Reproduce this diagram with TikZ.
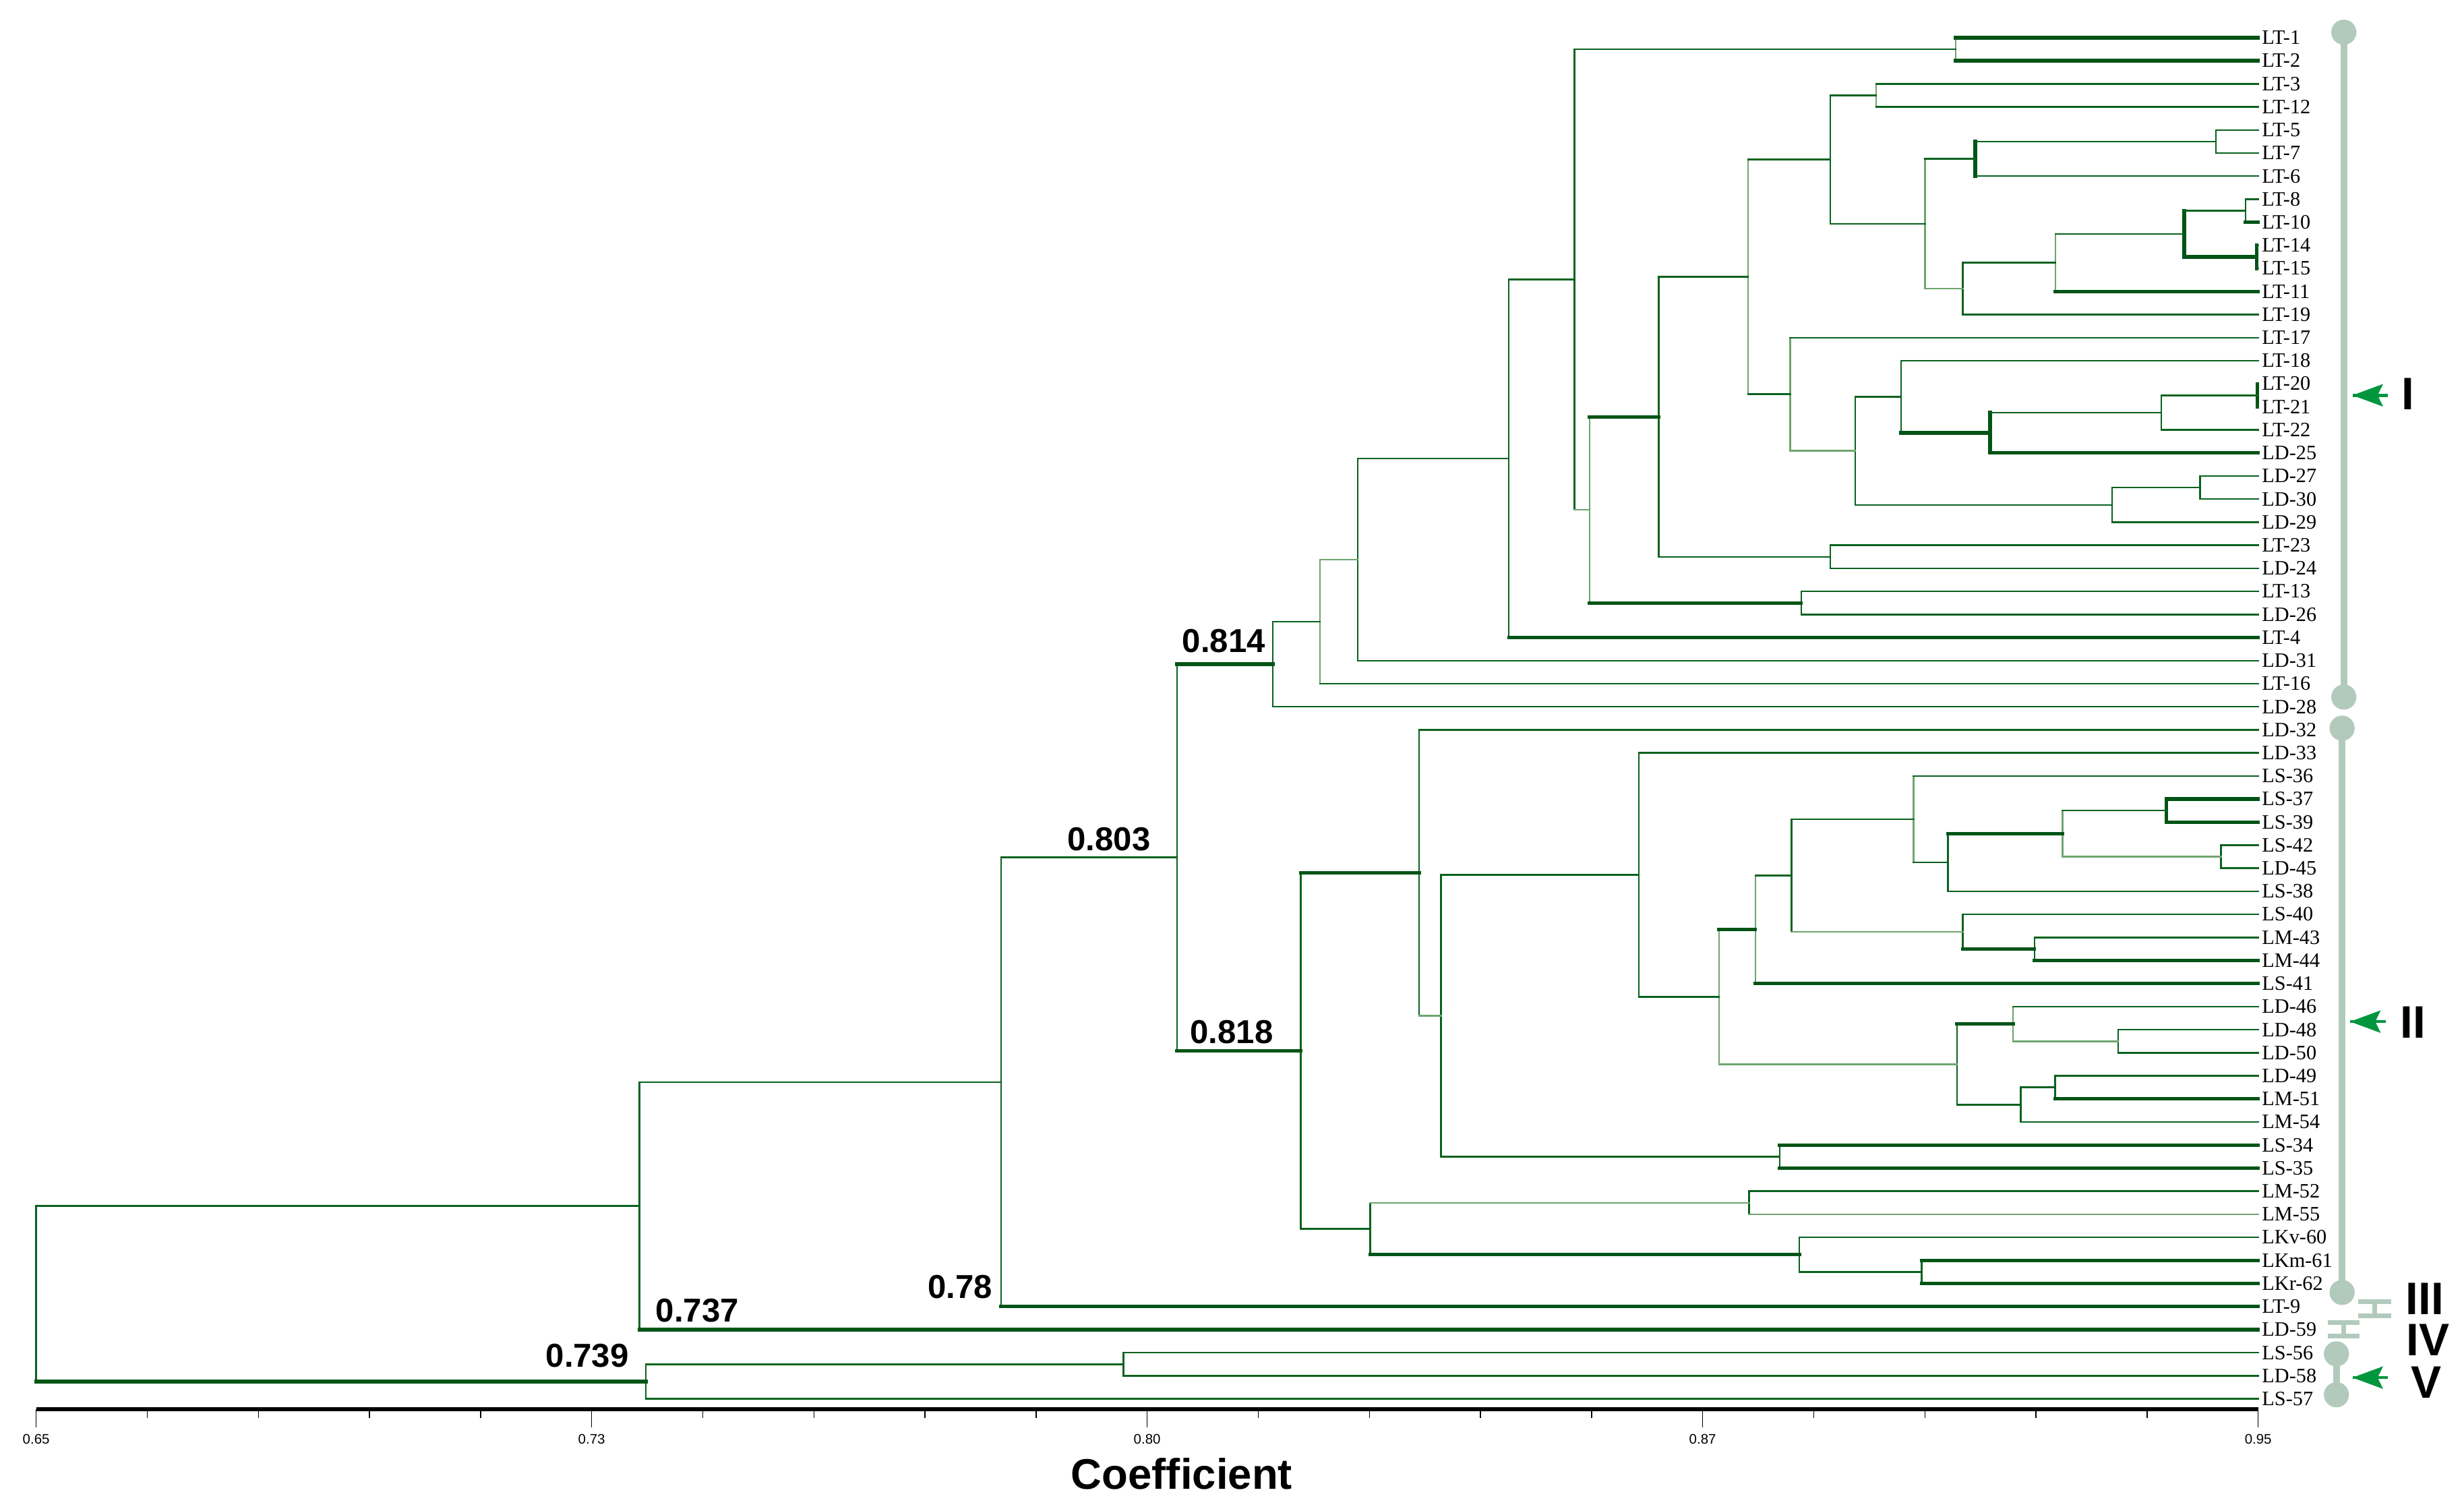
\documentclass[tikz,border=0pt]{standalone}
\usepackage{fontspec}
\setmainfont{Liberation Serif}
\newfontfamily\arialf{Liberation Sans}
\usetikzlibrary{calc,arrows.meta}
\definecolor{dg}{RGB}{8,98,30}
\definecolor{dgk}{RGB}{0,84,22}
\definecolor{lg}{RGB}{110,165,110}
\definecolor{sage}{RGB}{178,202,188}
\definecolor{ag}{RGB}{0,150,62}
\newcommand\mkcl[4]{\coordinate (#1tmp) at ($(#3)!0.5!(#4)$); \coordinate (#1) at (#1tmp -| #2,0);}
\newcommand\edg[4]{\draw[#1] (#3) -- (#3 |- #4); \draw[#2] (#3 |- #4) -- (#4);}
\newcommand\pointer[2]{\draw[grshaft] (#1) -- (#2);
  \fill[ag] (#2) -- ++(19.5,-7.2) -- ++(-3.5,7.2) -- ++(3.5,7.2) -- cycle;}
\tikzset{
  brn/.style={draw=dg, line width=0.6pt, line cap=rect},
  brk/.style={draw=dgk, line width=1.3pt, line cap=rect},
  brl/.style={draw=lg, line width=0.6pt, line cap=rect},
  leaf/.style={anchor=west, inner xsep=1.2pt, inner ysep=0pt, text height=4.8pt, text depth=0pt, font=\fontsize{7.4}{8}\selectfont},
  numlab/.style={anchor=base west, inner sep=0pt, font=\arialf\bfseries\fontsize{12}{14}\selectfont},
  roman/.style={inner sep=0pt, font=\arialf\bfseries\fontsize{16.5}{19}\selectfont},
  sageline/.style={draw=sage, line width=2.4pt},
  sagebar/.style={draw=sage, line width=1.7pt},
  grshaft/.style={draw=ag, line width=1.1pt},
  ticklab/.style={inner sep=0pt, font=\arialf\fontsize{5}{6}\selectfont}
}
\begin{document}
\begin{tikzpicture}[x=0.02cm, y=-0.02cm]
\useasboundingbox (0,0) rectangle (1568,960);
% leaves
\foreach \i/\t in {1/LT-1,2/LT-2,3/LT-3,4/LT-12,5/LT-5,6/LT-7,7/LT-6,8/LT-8,9/LT-10,10/LT-14,
 11/LT-15,12/LT-11,13/LT-19,14/LT-17,15/LT-18,16/LT-20,17/LT-21,18/LT-22,19/LD-25,20/LD-27,
 21/LD-30,22/LD-29,23/LT-23,24/LD-24,25/LT-13,26/LD-26,27/LT-4,28/LD-31,29/LT-16,30/LD-28,
 31/LD-32,32/LD-33,33/LS-36,34/LS-37,35/LS-39,36/LS-42,37/LD-45,38/LS-38,39/LS-40,40/LM-43,
 41/LM-44,42/LS-41,43/LD-46,44/LD-48,45/LD-50,46/LD-49,47/LM-51,48/LM-54,49/LS-34,50/LS-35,
 51/LM-52,52/LM-55,53/LKv-60,54/LKm-61,55/LKr-62,56/LT-9,57/LD-59,58/LS-56,59/LD-58,60/LS-57}
 {\node[leaf] (l\i) at (1437,{24+(\i-1)*14.678}) {\t};}
% cluster I
\mkcl{a1}{1244.5}{l1}{l2}
\mkcl{a2}{1194}{l3}{l4}
\mkcl{a3}{1410}{l5}{l6}
\mkcl{a4}{1257}{a3}{l7}
\mkcl{a5}{1429}{l8}{l9}
\mkcl{a6}{1436}{l10}{l11}
\mkcl{a7}{1390}{a5}{a6}
\mkcl{a8}{1308}{a7}{l12}
\mkcl{a9}{1249}{a8}{l13}
\mkcl{a10}{1225}{a4}{a9}
\mkcl{a11}{1164.7}{a2}{a10}
\mkcl{a12}{1436.5}{l16}{l17}
\mkcl{a13}{1375.3}{a12}{l18}
\mkcl{a14}{1266.4}{a13}{l19}
\mkcl{a15}{1209.7}{l15}{a14}
\mkcl{a16}{1400}{l20}{l21}
\mkcl{a17}{1344}{a16}{l22}
\mkcl{a18}{1180.5}{a15}{a17}
\mkcl{a19}{1139.2}{l14}{a18}
\mkcl{a20}{1112.5}{a11}{a19}
\mkcl{a21}{1164.7}{l23}{l24}
\mkcl{a22}{1055.5}{a20}{a21}
\mkcl{a23}{1146.2}{l25}{l26}
\mkcl{a24}{1011.5}{a22}{a23}
\mkcl{a25}{1002}{a1}{a24}
\mkcl{a26}{960.2}{a25}{l27}
\mkcl{a27}{864}{a26}{l28}
\mkcl{a28}{840}{a27}{l29}
\mkcl{a29}{810}{a28}{l30}
% cluster II
\mkcl{b1}{1378.6}{l34}{l35}
\mkcl{b2}{1413.3}{l36}{l37}
\mkcl{b3}{1312.6}{b1}{b2}
\mkcl{b4}{1239.5}{b3}{l38}
\mkcl{b5}{1217.8}{l33}{b4}
\mkcl{b6}{1294.6}{l40}{l41}
\mkcl{b7}{1249}{l39}{b6}
\mkcl{b8}{1140}{b5}{b7}
\mkcl{b9}{1117}{b8}{l42}
\mkcl{b10}{1347.9}{l44}{l45}
\mkcl{b11}{1281}{l43}{b10}
\mkcl{b12}{1307.7}{l46}{l47}
\mkcl{b13}{1286}{b12}{l48}
\mkcl{b14}{1245.4}{b11}{b13}
\mkcl{b15}{1094}{b9}{b14}
\mkcl{b16}{1043}{l32}{b15}
\mkcl{b17}{1132.5}{l49}{l50}
\mkcl{b18}{917}{b16}{b17}
\mkcl{b19}{903}{l31}{b18}
\mkcl{b20}{1113}{l51}{l52}
\mkcl{b21}{1222.8}{l54}{l55}
\mkcl{b22}{1145}{l53}{b21}
\mkcl{b23}{872}{b20}{b22}
\mkcl{b24}{827.7}{b19}{b23}
\mkcl{c1}{749}{a29}{b24}
\mkcl{c2}{637}{c1}{l56}
\mkcl{c3}{407}{c2}{l57}
\mkcl{d1}{715}{l58}{l59}
\mkcl{d2}{411}{d1}{l60}
\mkcl{r}{23}{c3}{d2}
% edges cluster I
\edg{brl}{brk}{a1}{l1.west} \edg{brl}{brk}{a1}{l2.west}
\edg{brl}{brn}{a2}{l3.west} \edg{brl}{brn}{a2}{l4.west}
\edg{brn}{brn}{a3}{l5.west} \edg{brn}{brn}{a3}{l6.west}
\edg{brk}{brn}{a4}{a3} \edg{brk}{brn}{a4}{l7.west}
\edg{brn}{brn}{a5}{l8.west} \edg{brn}{brk}{a5}{l9.west}
\edg{brk}{brn}{a6}{l10.west} \edg{brk}{brn}{a6}{l11.west}
\edg{brk}{brn}{a7}{a5} \edg{brk}{brk}{a7}{a6}
\edg{brl}{brn}{a8}{a7} \edg{brl}{brk}{a8}{l12.west}
\edg{brn}{brn}{a9}{a8} \edg{brn}{brn}{a9}{l13.west}
\edg{brl}{brn}{a10}{a4} \edg{brl}{brl}{a10}{a9}
\edg{brn}{brn}{a11}{a2} \edg{brn}{brn}{a11}{a10}
\edg{brk}{brn}{a12}{l16.west} \edg{brk}{brn}{a12}{l17.west}
\edg{brn}{brn}{a13}{a12} \edg{brn}{brn}{a13}{l18.west}
\edg{brk}{brn}{a14}{a13} \edg{brk}{brk}{a14}{l19.west}
\edg{brn}{brn}{a15}{l15.west} \edg{brn}{brk}{a15}{a14}
\edg{brn}{brn}{a16}{l20.west} \edg{brn}{brn}{a16}{l21.west}
\edg{brn}{brn}{a17}{a16} \edg{brn}{brn}{a17}{l22.west}
\edg{brn}{brn}{a18}{a15} \edg{brn}{brn}{a18}{a17}
\edg{brl}{brn}{a19}{l14.west} \edg{brl}{brl}{a19}{a18}
\edg{brl}{brn}{a20}{a11} \edg{brl}{brn}{a20}{a19}
\edg{brn}{brn}{a21}{l23.west} \edg{brn}{brn}{a21}{l24.west}
\edg{brn}{brn}{a22}{a20} \edg{brn}{brn}{a22}{a21}
\edg{brn}{brn}{a23}{l25.west} \edg{brn}{brn}{a23}{l26.west}
\edg{brl}{brk}{a24}{a22} \edg{brl}{brk}{a24}{a23}
\edg{brn}{brn}{a25}{a1} \edg{brn}{brl}{a25}{a24}
\edg{brn}{brn}{a26}{a25} \edg{brn}{brk}{a26}{l27.west}
\edg{brn}{brn}{a27}{a26} \edg{brn}{brn}{a27}{l28.west}
\edg{brl}{brl}{a28}{a27} \edg{brl}{brn}{a28}{l29.west}
\edg{brn}{brn}{a29}{a28} \edg{brn}{brn}{a29}{l30.west}
% edges cluster II
\edg{brk}{brk}{b1}{l34.west} \edg{brk}{brk}{b1}{l35.west}
\edg{brn}{brn}{b2}{l36.west} \edg{brn}{brn}{b2}{l37.west}
\edg{brl}{brn}{b3}{b1} \edg{brl}{brl}{b3}{b2}
\edg{brn}{brk}{b4}{b3} \edg{brn}{brn}{b4}{l38.west}
\edg{brl}{brn}{b5}{l33.west} \edg{brl}{brn}{b5}{b4}
\edg{brn}{brn}{b6}{l40.west} \edg{brn}{brk}{b6}{l41.west}
\edg{brn}{brn}{b7}{l39.west} \edg{brn}{brk}{b7}{b6}
\edg{brn}{brn}{b8}{b5} \edg{brn}{brl}{b8}{b7}
\edg{brl}{brn}{b9}{b8} \edg{brl}{brk}{b9}{l42.west}
\edg{brn}{brn}{b10}{l44.west} \edg{brn}{brn}{b10}{l45.west}
\edg{brl}{brn}{b11}{l43.west} \edg{brl}{brl}{b11}{b10}
\edg{brn}{brn}{b12}{l46.west} \edg{brn}{brk}{b12}{l47.west}
\edg{brn}{brn}{b13}{b12} \edg{brn}{brn}{b13}{l48.west}
\edg{brn}{brk}{b14}{b11} \edg{brn}{brn}{b14}{b13}
\edg{brl}{brk}{b15}{b9} \edg{brl}{brl}{b15}{b14}
\edg{brn}{brn}{b16}{l32.west} \edg{brn}{brn}{b16}{b15}
\edg{brn}{brk}{b17}{l49.west} \edg{brn}{brk}{b17}{l50.west}
\edg{brn}{brn}{b18}{b16} \edg{brn}{brn}{b18}{b17}
\edg{brn}{brn}{b19}{l31.west} \edg{brn}{brl}{b19}{b18}
\edg{brn}{brn}{b20}{l51.west} \edg{brn}{brl}{b20}{l52.west}
\edg{brn}{brk}{b21}{l54.west} \edg{brn}{brk}{b21}{l55.west}
\edg{brn}{brn}{b22}{l53.west} \edg{brn}{brn}{b22}{b21}
\edg{brn}{brl}{b23}{b20} \edg{brn}{brk}{b23}{b22}
\edg{brn}{brk}{b24}{b19} \edg{brn}{brn}{b24}{b23}
% top levels
\edg{brn}{brk}{c1}{a29} \edg{brn}{brk}{c1}{b24}
\edg{brn}{brn}{c2}{c1} \edg{brn}{brk}{c2}{l56.west}
\edg{brn}{brn}{c3}{c2} \edg{brn}{brk}{c3}{l57.west}
\edg{brn}{brn}{d1}{l58.west} \edg{brn}{brn}{d1}{l59.west}
\edg{brn}{brn}{d2}{d1} \edg{brn}{brn}{d2}{l60.west}
\edg{brn}{brn}{r}{c3} \edg{brn}{brk}{r}{d2}
% node values
\node[numlab] (v814) at (752,415) {0.814};
\node[numlab] (v803) at (679,541) {0.803};
\node[numlab] (v818) at (757,664) {0.818};
\node[numlab] (v78) at (590,826) {0.78};
\node[numlab] (v737) at (417,841) {0.737};
\node[numlab] (v739) at (347,870) {0.739};
% cluster brackets
\coordinate (gIt) at (1491.5,20.5); \coordinate (gIb) at (1491.5,443.5);
\draw[sageline] (gIt) -- (gIb);
\fill[sage] (gIt) circle[radius=0.16cm] (gIb) circle[radius=0.16cm];
\coordinate (gIIt) at (1490.4,463.3); \coordinate (gIIb) at (1490.4,822.3);
\draw[sageline] (gIIt) -- (gIIb);
\fill[sage] (gIIt) circle[radius=0.16cm] (gIIb) circle[radius=0.16cm];
\coordinate (gIIIt) at (1511,828); \coordinate (gIIIb) at (1511,837);
\draw[sagebar] (gIIIt) -- (gIIIb);
\draw[sagebar] ([xshift=-0.21cm]gIIIt) -- ([xshift=0.21cm]gIIIt);
\draw[sagebar] ([xshift=-0.21cm]gIIIb) -- ([xshift=0.21cm]gIIIb);
\coordinate (gIVt) at (1491.5,841.6); \coordinate (gIVb) at (1491.5,850);
\draw[sagebar] (gIVt) -- (gIVb);
\draw[sagebar] ([xshift=-0.2cm]gIVt) -- ([xshift=0.2cm]gIVt);
\draw[sagebar] ([xshift=-0.2cm]gIVb) -- ([xshift=0.2cm]gIVb);
\coordinate (gVt) at (1486.8,861.4); \coordinate (gVb) at (1486.8,887.4);
\draw[sageline] (gVt) -- (gVb);
\fill[sage] (gVt) circle[radius=0.16cm] (gVb) circle[radius=0.16cm];
% arrows
\coordinate (pIs) at (1519.5,251.5); \coordinate (pIe) at (1497,251.5);
\pointer{pIs}{pIe}
\coordinate (pIIs) at (1518,650); \coordinate (pIIe) at (1495.5,650);
\pointer{pIIs}{pIIe}
\coordinate (pVs) at (1519.5,876.5); \coordinate (pVe) at (1497,876.5);
\pointer{pVs}{pVe}
% roman labels
\node[roman] (rI) at (1532.5,250.5) {I};
\node[roman] (rII) at (1535.5,650.5) {II};
\node[roman] (rIII) at (1543,826.5) {III};
\node[roman] (rIV) at (1545,852.5) {IV};
\node[roman] (rV) at (1544,879.5) {V};
% axis
\draw[black, line width=1.25pt] (23,896.6) -- (1437,896.6);
\foreach \k in {0,...,20} {\draw[black, line width=0.35pt] ({23+\k*70.7},896.6) -- ({23+\k*70.7},902);}
\foreach \k/\t in {0/0.65,5/0.73,10/0.80,15/0.87,20/0.95} {
  \draw[black, line width=0.35pt] ({23+\k*70.7},896.6) -- ({23+\k*70.7},908);
  \node[ticklab] (tk\k) at ({23+\k*70.7},915.5) {\t};}
\node[inner sep=0pt, font=\arialf\bfseries\fontsize{15.5}{18}\selectfont] (coef) at (752,937.5) {Coefficient};
\end{tikzpicture}
\end{document}
